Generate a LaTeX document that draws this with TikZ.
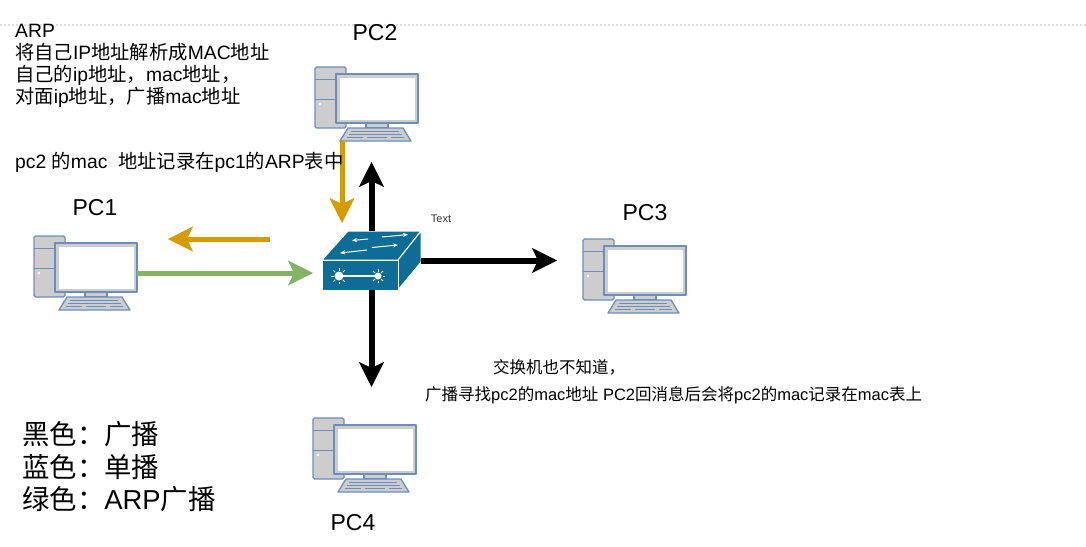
\documentclass[tikz,border=0pt]{standalone}
\usepackage{fontspec}
\setmainfont{Liberation Sans}
\newfontfamily\cjk{Noto Sans CJK SC}
\usetikzlibrary{arrows.meta}

\definecolor{swblue}{HTML}{0E6D97}
\definecolor{pcstroke}{HTML}{6C8EBF}
\definecolor{pcfill}{HTML}{CDCDCD}
\definecolor{arporange}{HTML}{D79B00}
\definecolor{arpgreen}{HTML}{82B366}

\newcommand{\zh}[1]{{\cjk #1}}

\tikzset{
	pcbox/.style={minimum width=103pt, minimum height=74pt, inner sep=0pt, outer sep=0pt, anchor=north west},
	pcpart/.style={draw=pcstroke, fill=pcfill, line width=1.3pt, line join=round},
	pcline/.style={draw=pcstroke, line width=1pt},
	pclabel/.style={font=\fontsize{23}{26}\selectfont},
	txt/.style={anchor=base west, inner sep=0pt, font=\fontsize{19.3}{22}\selectfont},
	notetxt/.style={anchor=base west, inner sep=0pt, font=\fontsize{16.5}{20}\selectfont},
	legend/.style={anchor=base west, inner sep=0pt, font=\fontsize{27.4}{30}\selectfont},
	bigtip/.style={-{Stealth[length=25pt, width=25pt, inset=6pt, line width=0.5pt]}},
	bcastline/.style={bigtip, line width=6pt, black},
	ucastline/.style={bigtip, line width=5pt, arporange},
	arpline/.style={bigtip, line width=5pt, arpgreen},
	swface/.style={fill=swblue, draw=white, line width=1pt, line join=round},
	swmark/.style={draw=white, line width=1pt},
}

% one computer icon, #1 = name, #2 = top left corner
\newcommand{\pcicon}[2]{%
	\node[pcbox] (#1) at (#2) {};
	\begin{scope}[shift={(#1.north west)}]
		\draw[pcpart, rounded corners=1.5pt] (0,0) rectangle (31,61);
		\draw[pcline] (0,12) -- (31,12);
		\draw[pcline] (0,32) -- (31,32);
		\fill[white] (5,37) circle (1.4);
		\draw[pcpart] (21,7) rectangle (103,56);
		\fill[white] (24.5,10.5) rectangle (99.5,52.5);
		\draw[pcpart] (51,56) rectangle (73,61);
		\draw[pcpart] (33,61) -- (88,61) -- (96,74) -- (25,74) -- cycle;
		\draw[pcline] (36,64.5) -- (84,64.5);
		\draw[pcline] (34,67.5) -- (87,67.5);
		\draw[pcline] (32,70.8) -- (48,70.8);
		\draw[pcline] (52,70.8) -- (72,70.8);
		\draw[pcline] (76,70.8) -- (89,70.8);
	\end{scope}}

\begin{document}
\begin{tikzpicture}[x=1pt, y=-1pt]
	\useasboundingbox (0,0) rectangle (1086,546);
	\draw[gray!25, line width=1.5pt, dash pattern=on 2pt off 2pt] (0,25) -- (1086,25);

	% computers
	\pcicon{pc1}{34,236}
	\pcicon{pc2}{315,67}
	\pcicon{pc3}{583,239}
	\pcicon{pc4}{313,418}
	\node[pclabel] (pc1lbl) at (95,208) {PC1};
	\node[pclabel] (pc2lbl) at (375,33) {PC2};
	\node[pclabel] (pc3lbl) at (645,213) {PC3};
	\node[pclabel] (pc4lbl) at (353,523) {PC4};

	% switch
	\node[minimum width=99pt, minimum height=59pt, inner sep=0pt, outer sep=0pt] (sw) at (371.5,260.5) {};
	\begin{scope}[shift={(sw.north west)}]
		\draw[swface] (0,29) -- (26,0) -- (99,0) -- (76,29) -- cycle;
		\draw[swface] (76,29) -- (99,0) -- (99,31) -- (76,59) -- cycle;
		\draw[swface] (0,29) rectangle (76,59);
		\draw[swmark, -{Stealth[length=5pt, width=4pt]}] (46,8) -- (30,9.5);
		\draw[swmark, -{Stealth[length=5pt, width=4pt]}] (60,6) -- (86,3.5);
		\draw[swmark, -{Stealth[length=5pt, width=4pt]}] (45,19) -- (18,22);
		\draw[swmark, -{Stealth[length=5pt, width=4pt]}] (50,16.5) -- (76,14);
		\draw[swmark, line width=1.5pt] (17,45) -- (56,45);
		\fill[white] (17,45) circle (4.5);
		\fill[white] (56,45) circle (3.5);
		\foreach \a in {0,45,...,315} {
			\draw[swmark] (17,45) ++(\a:5.5) -- ++(\a:2.8);
			\draw[swmark] (56,45) ++(\a:4.5) -- ++(\a:2.5);
		}
	\end{scope}
	\node[font=\fontsize{11}{13}\selectfont, text=black!80] (swlbl) at (441,219) {Text};

	% arrows
	\coordinate (bup) at (371.5,162);
	\coordinate (bdown) at (371.5,387);
	\coordinate (bright) at (557,260.5);
	\coordinate (odown) at (342,223);
	\coordinate (ostart) at (270,239);
	\coordinate (oleft) at (168,239);
	\coordinate (gtip) at (313,273);
	\draw[bcastline] (sw.north) -- (bup);
	\draw[bcastline] (sw.south) -- (bdown);
	\draw[bcastline] (sw.east) -- (bright);
	\draw[ucastline] ([xshift=-24.5pt]pc2.south) -- (odown);
	\draw[ucastline] (ostart) -- (oleft);
	\draw[arpline] (pc1.east) -- (gtip);

	% texts
	\node[txt] (arp1) at (15,37) {ARP};
	\node[txt] (arp2) at (15,59) {\zh{将自己}IP\zh{地址解析成}MAC\zh{地址}};
	\node[txt] (arp3) at (15,81) {\zh{自己的}ip\zh{地址，}mac\zh{地址，}};
	\node[txt] (arp4) at (15,103) {\zh{对面}ip\zh{地址，广播}mac\zh{地址}};
	\node[txt] (arp5) at (15,168) {pc2 \zh{的}mac\ \ \zh{地址记录在}pc1\zh{的}ARP\zh{表中}};
	\node[notetxt] (note1) at (493,373) {\zh{交换机也不知道，}};
	\node[notetxt] (note2) at (425,400) {\zh{广播寻找}pc2\zh{的}mac\zh{地址} PC2\zh{回消息后会将}pc2\zh{的}mac\zh{记录在}mac\zh{表上}};
	\node[legend] (key1) at (22,444) {\zh{黑色：广播}};
	\node[legend] (key2) at (22,477) {\zh{蓝色：单播}};
	\node[legend] (key3) at (22,509) {\zh{绿色：}ARP\zh{广播}};
\end{tikzpicture}
\end{document}
